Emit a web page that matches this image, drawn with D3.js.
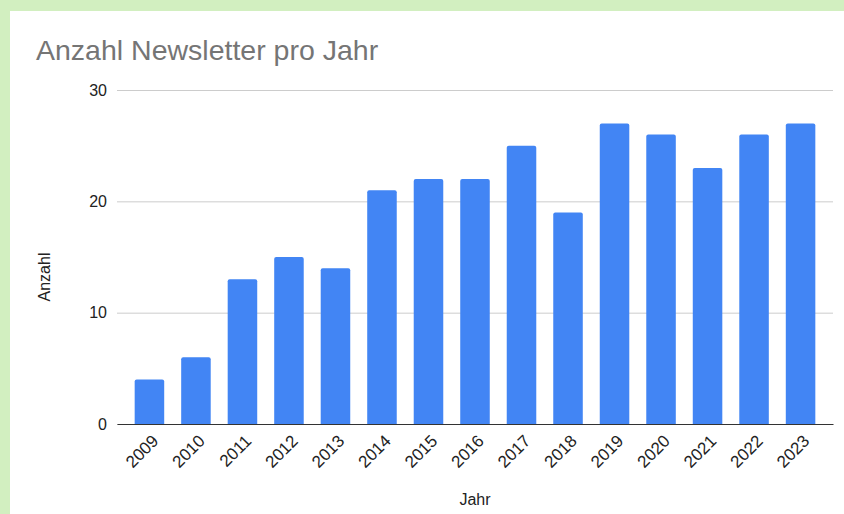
<!DOCTYPE html>
<html>
<head>
<meta charset="utf-8">
<script src="https://cdn.jsdelivr.net/npm/d3@7"></script>
<style>
  body { margin: 0; background: #d2efc0; }
  svg { display: block; font-family: Arial, "Liberation Sans", sans-serif; }
</style>
</head>
<body>
<div id="output"></div>
<script>
var w = 844;   // size of the page
var h = 514;

// data
var years = ['2009', '2010', '2011', '2012', '2013', '2014', '2015', '2016',
             '2017', '2018', '2019', '2020', '2021', '2022', '2023'];
var counts = [4, 6, 13, 15, 14, 21, 22, 22, 25, 19, 27, 26, 23, 26, 27];
var yTicks = [0, 10, 20, 30];

var plot = { left: 117, right: 833, top: 90, bottom: 424 };

var svg = d3.select('#output').append('svg')
  .attr('width', w)
  .attr('height', h);

// green frame, white card
svg.append('rect').attr('width', w).attr('height', h).attr('fill', '#d2efc0');
svg.append('rect').attr('x', 10).attr('y', 11).attr('width', w - 10).attr('height', h - 11).attr('fill', '#fff');

var x = d3.scaleBand()
  .domain(years)
  .range([plot.left, plot.right])
  .paddingInner(0.365)
  .paddingOuter(0.38);

var y = d3.scaleLinear()
  .domain([0, 30])
  .range([plot.bottom, plot.top]);

// title
svg.append('text')
  .attr('x', 36).attr('y', 60)
  .attr('font-size', 28.5)
  .attr('fill', '#757575')
  .text('Anzahl Newsletter pro Jahr');

// grid + y labels
var yAxis = d3.axisLeft(y).tickValues(yTicks).tickSize(-(plot.right - plot.left)).tickPadding(10);
var gy = svg.append('g').attr('transform', 'translate(' + plot.left + ',0)').call(yAxis);
gy.select('.domain').remove();
gy.selectAll('.tick line').attr('stroke', '#cccccc').attr('stroke-width', 1);
gy.selectAll('.tick text').attr('font-size', 16).attr('fill', '#222').attr('font-family', 'Arial, "Liberation Sans", sans-serif');

// bars with rounded tops
var r = 2;
svg.selectAll('path.bar')
  .data(counts)
  .enter()
  .append('path')
  .attr('class', 'bar')
  .attr('fill', '#4285f4')
  .attr('d', function(d, i) {
    var x0 = x(years[i]), bw = x.bandwidth();
    var y0 = y(d), yb = y(0);
    return 'M' + x0 + ',' + yb +
      'V' + (y0 + r) +
      'Q' + x0 + ',' + y0 + ' ' + (x0 + r) + ',' + y0 +
      'H' + (x0 + bw - r) +
      'Q' + (x0 + bw) + ',' + y0 + ' ' + (x0 + bw) + ',' + (y0 + r) +
      'V' + yb + 'Z';
  });

// x axis
var xAxis = d3.axisBottom(x).tickSize(0).tickPadding(0);
var gx = svg.append('g').attr('transform', 'translate(0,' + plot.bottom + ')').call(xAxis);
gx.select('.domain').attr('stroke', '#333').attr('stroke-width', 1.2);
gx.selectAll('.tick text')
  .attr('font-size', 17)
  .attr('fill', '#222')
  .attr('font-family', 'Arial, "Liberation Sans", sans-serif')
  .attr('text-anchor', 'end')
  .attr('dy', null)
  .attr('transform', 'translate(10,18) rotate(-45)');

// axis titles
svg.append('text')
  .attr('transform', 'translate(50,' + ((plot.top + plot.bottom) / 2 + 20) + ') rotate(-90)')
  .attr('text-anchor', 'middle')
  .attr('font-size', 16)
  .attr('fill', '#222')
  .text('Anzahl');

svg.append('text')
  .attr('x', (plot.left + plot.right) / 2)
  .attr('y', 505)
  .attr('text-anchor', 'middle')
  .attr('font-size', 16)
  .attr('fill', '#222')
  .text('Jahr');
</script>
</body>
</html>
